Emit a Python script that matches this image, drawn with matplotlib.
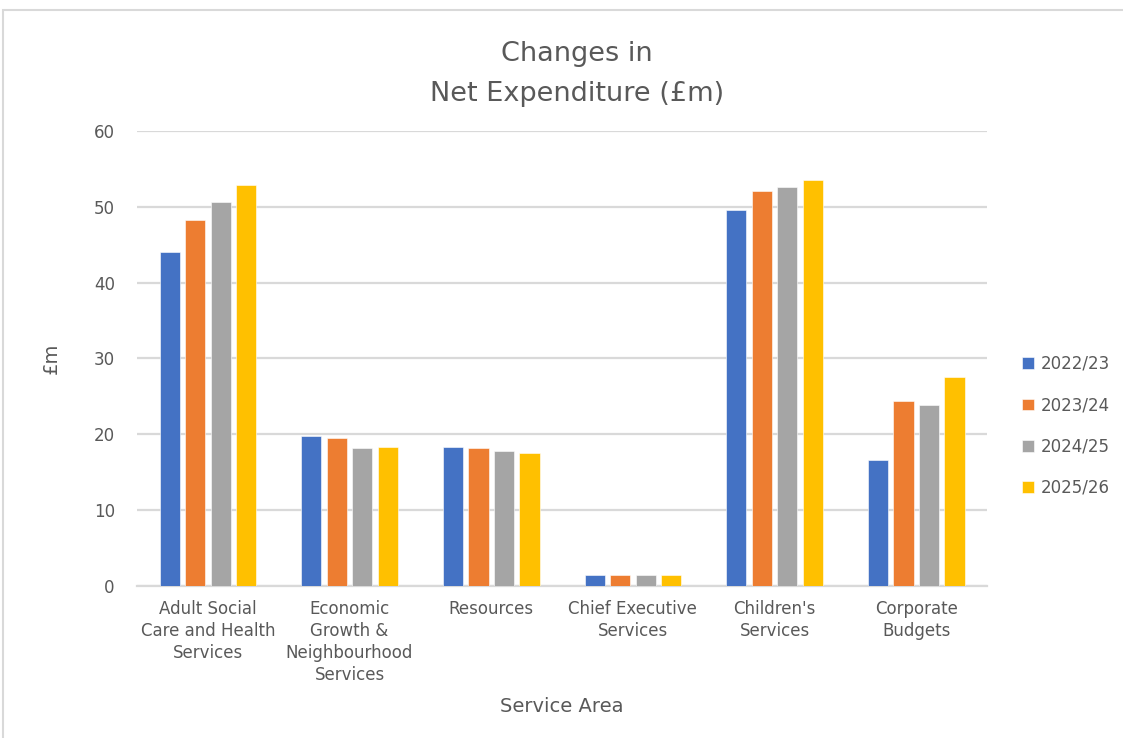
import matplotlib
matplotlib.use("Agg")
import matplotlib.pyplot as plt
import numpy as np
from matplotlib.patches import Rectangle

categories = [
    "Adult Social\nCare and Health\nServices",
    "Economic\nGrowth &\nNeighbourhood\nServices",
    "Resources",
    "Chief Executive\nServices",
    "Children's\nServices",
    "Corporate\nBudgets",
]
series_names = ["2022/23", "2023/24", "2024/25", "2025/26"]
v_2022_23 = [44.0, 19.8, 18.3, 1.4, 49.6, 16.6]
v_2023_24 = [48.2, 19.5, 18.2, 1.4, 52.1, 24.4]
v_2024_25 = [50.6, 18.2, 17.8, 1.4, 52.6, 23.8]
v_2025_26 = [52.9, 18.3, 17.6, 1.4, 53.5, 27.6]
y_ticks = [0, 10, 20, 30, 40, 50, 60]

colors = ["#4472C4", "#ED7D31", "#A5A5A5", "#FFC000"]
text_color = "#595959"
grid_color = "#D9D9D9"

plt.rcParams["font.family"] = ["DejaVu Sans"]

fig = plt.figure(figsize=(11.23, 7.38), dpi=100)
fig.patch.set_facecolor("white")
fig.patches.append(Rectangle((0.003, -0.05), 1.05, 1.036, transform=fig.transFigure,
                             fill=False, edgecolor=grid_color, linewidth=1.5))

ax = fig.add_axes([0.122, 0.206, 0.757, 0.6165])

x = np.arange(len(categories))
stride = 0.18
width = 0.142
all_series = [v_2022_23, v_2023_24, v_2024_25, v_2025_26]
for i, (vals, name, c) in enumerate(zip(all_series, series_names, colors)):
    ax.bar(x + (i - 1.5) * stride, vals, width=width, color=c, label=name,
           edgecolor="white", linewidth=0.4, zorder=3)

ax.set_xlim(-0.5, len(categories) - 0.5)
ax.set_ylim(0, 60)
ax.set_yticks(y_ticks)
ax.yaxis.grid(True, color=grid_color, linewidth=1.6, zorder=0)
ax.set_axisbelow(True)
for s in ["top", "right", "left"]:
    ax.spines[s].set_visible(False)
ax.spines["bottom"].set_color(grid_color)
ax.spines["bottom"].set_linewidth(1.6)
ax.tick_params(axis="both", length=0, colors=text_color, labelsize=12)
ax.tick_params(axis="y", pad=16)
ax.tick_params(axis="x", pad=10)
ax.set_xticks(x)
ax.set_xticklabels(categories, linespacing=1.3, va="top")

ax.set_ylabel("£m", color=text_color, fontsize=14, labelpad=24)
ax.set_xlabel("Service Area", color=text_color, fontsize=14, labelpad=9)

fig.text(0.5135, 0.9, "Changes in\nNet Expenditure (£m)", ha="center", va="center",
         fontsize=19.5, color=text_color, linespacing=1.72)

leg = fig.legend(loc="center left", bbox_to_anchor=(1007 / 1123, 1 - 426 / 738),
                 bbox_transform=fig.transFigure, frameon=False,
                 fontsize=12, handlelength=0.7, handleheight=0.7, handletextpad=0.45,
                 labelspacing=1.4, labelcolor=text_color)

fig.savefig("out.png", dpi=100, facecolor="white")
